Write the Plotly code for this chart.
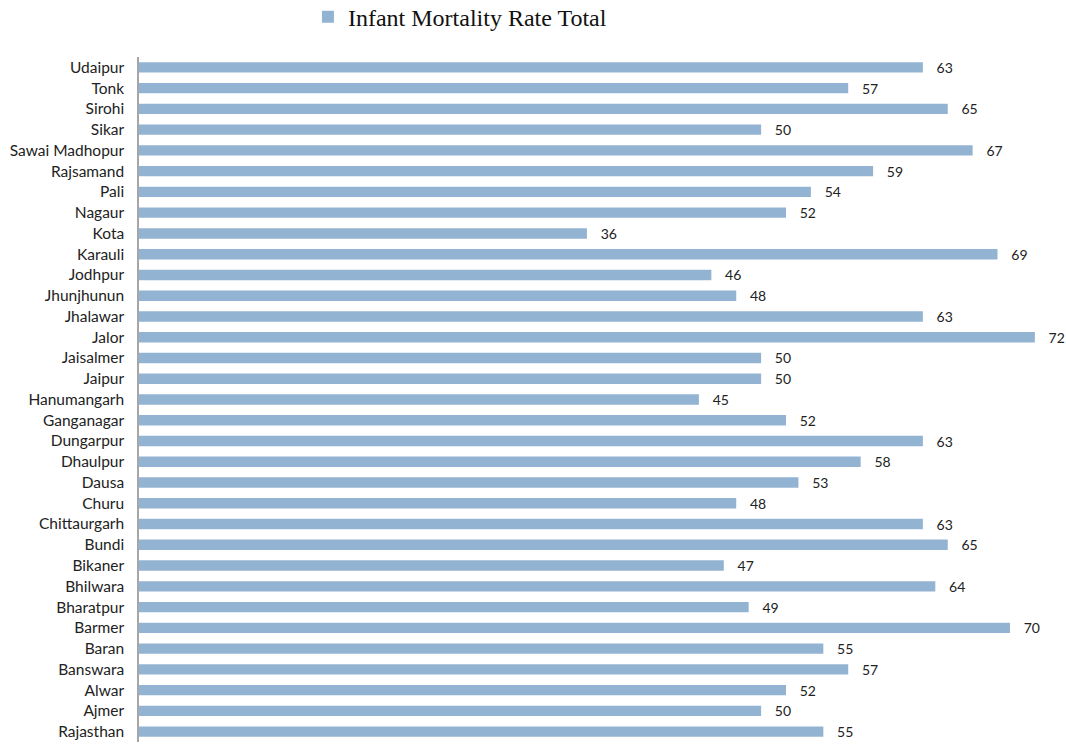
import plotly.graph_objects as go

districts = ["Udaipur", "Tonk", "Sirohi", "Sikar", "Sawai Madhopur", "Rajsamand", "Pali", "Nagaur",
             "Kota", "Karauli", "Jodhpur", "Jhunjhunun", "Jhalawar", "Jalor", "Jaisalmer", "Jaipur",
             "Hanumangarh", "Ganganagar", "Dungarpur", "Dhaulpur", "Dausa", "Churu", "Chittaurgarh",
             "Bundi", "Bikaner", "Bhilwara", "Bharatpur", "Barmer", "Baran", "Banswara", "Alwar",
             "Ajmer", "Rajasthan"]
imr_total = [63, 57, 65, 50, 67, 59, 54, 52, 36, 69, 46, 48, 63, 72, 50, 50,
             45, 52, 63, 58, 53, 48, 63, 65, 47, 64, 49, 70, 55, 57, 52, 50, 55]
series_name = "Infant Mortality Rate Total"

fig = go.Figure()
fig.add_trace(go.Bar(
    y=districts, x=imr_total, orientation="h", name=series_name,
    marker=dict(color="#93B3D3", line=dict(width=0)),
    text=imr_total, texttemplate="   %{x}", textposition="outside",
    constraintext="none",
    textfont=dict(family="Lato, Noto Sans, sans-serif", size=14, color="#222222"),
    cliponaxis=False, showlegend=True,
))

fig.update_layout(
    width=1066, height=744,
    margin=dict(l=139, r=10, t=57, b=2, autoexpand=False),
    paper_bgcolor="white", plot_bgcolor="white",
    bargap=0.5,
    showlegend=True,
    legend=dict(orientation="h", x=0.35, xanchor="center", y=1.058, yanchor="middle",
                font=dict(family="Liberation Serif, DejaVu Serif, serif", size=24, color="#111111"),
                itemwidth=30, bgcolor="rgba(0,0,0,0)"),
    xaxis=dict(range=[0, 73.7], showgrid=False, zeroline=False, showticklabels=False,
               ticks="", showline=False, fixedrange=True, automargin=False),
    yaxis=dict(categoryorder="array", categoryarray=districts[::-1], autorange=False,
               range=[-0.5, len(districts) - 0.5], automargin=False,
               showgrid=False, zeroline=False, showline=True, linecolor="#A6A6A6", linewidth=1.5,
               ticks="", ticklabelstandoff=10,
               tickfont=dict(family="Lato, Noto Sans, sans-serif", size=15.5, color="#222222")),
)

fig.write_html("out.html", config={"displayModeBar": False},
               post_script="document.body.style.margin='0';document.body.style.overflow='hidden';")
